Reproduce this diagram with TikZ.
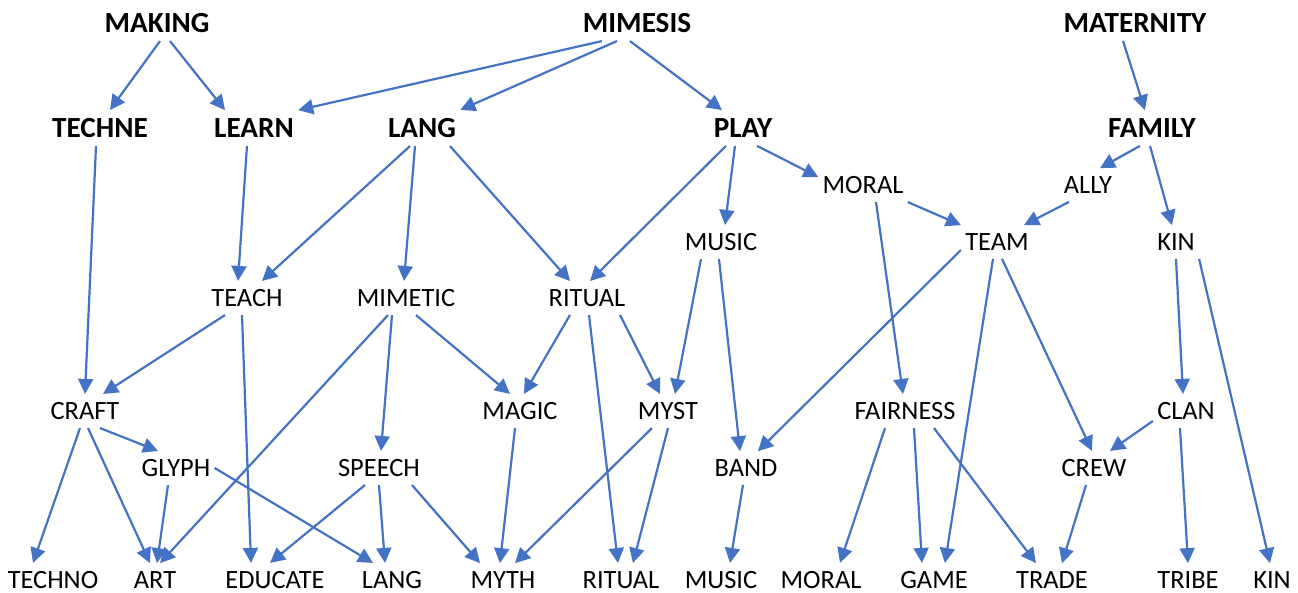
\documentclass[tikz,border=0pt]{standalone}
\usepackage{fontspec}
\setmainfont{Carlito}
\usetikzlibrary{positioning}
\usetikzlibrary{arrows.meta}
\definecolor{linkblue}{HTML}{4472C4}
\tikzset{every node/.style={font=\fontsize{13.2}{15}\selectfont,inner xsep=2pt,inner ysep=4pt},
	root/.style={font=\fontsize{14.6}{17}\selectfont\bfseries},
	link/.style={-{Triangle[length=7.5pt,width=7.5pt]},color=linkblue,line width=1.1pt}}

\begin{document}
\begin{tikzpicture}[x=0.5pt,y=-0.5pt]
	\useasboundingbox (0,0) rectangle (1298,593);
	\node[root] at (157,23) (making) {MAKING};
	\node[root] at (637,23) (mimesis) {MIMESIS};
	\node[root] at (1135,23) (maternity) {MATERNITY};
	\node[root] at (100,128) (techne) {TECHNE};
	\node[root] at (254,128) (learn) {LEARN};
	\node[root] at (422,128) (lang) {LANG};
	\node[root] at (743,128) (play) {PLAY};
	\node[root] at (1152,128) (family) {FAMILY};
	\node at (863,185) (moral) {MORAL};
	\node at (1088,185) (ally) {ALLY};
	\node at (721,242) (music) {MUSIC};
	\node at (997,242) (team) {TEAM};
	\node at (1176,242) (kin) {KIN};
	\node at (247,298) (teach) {TEACH};
	\node at (406,298) (mimetic) {MIMETIC};
	\node at (587,298) (ritual) {RITUAL};
	\node at (85,411) (craft) {CRAFT};
	\node at (520,411) (magic) {MAGIC};
	\node at (668,411) (myst) {MYST};
	\node at (905,411) (fairness) {FAIRNESS};
	\node at (1186,411) (clan) {CLAN};
	\node at (176,468) (glyph) {GLYPH};
	\node at (379,468) (speech) {SPEECH};
	\node at (746,468) (band) {BAND};
	\node at (1094,468) (crew) {CREW};
	\node at (53,580) (techno) {TECHNO};
	\node at (155,580) (art) {ART};
	\node at (275,580) (educate) {EDUCATE};
	\node at (392,580) (langb) {LANG};
	\node at (503,580) (myth) {MYTH};
	\node at (621,580) (ritualb) {RITUAL};
	\node at (721,580) (musicb) {MUSIC};
	\node at (821,580) (moralb) {MORAL};
	\node at (934,580) (game) {GAME};
	\node at (1052,580) (trade) {TRADE};
	\node at (1188,580) (tribe) {TRIBE};
	\node at (1272,580) (kinb) {KIN};
	
	\draw[link] ([xshift=1.5pt]making.south) -- ([xshift=5pt]techne.north);
	\draw[link] ([xshift=6.5pt]making.south) -- ([xshift=-14.5pt]learn.north);
	\draw[link] ([xshift=-17.5pt]mimesis.south) -- (learn.north east);
	\draw[link] ([xshift=-10pt]mimesis.south) -- (lang.north east);
	\draw[link] ([xshift=-3.5pt]mimesis.south) -- ([xshift=-10.5pt]play.north);
	\draw[link] ([xshift=-6pt]maternity.south) -- ([xshift=-3.5pt]family.north);
	\draw[link] ([xshift=-2pt]techne.south) -- (craft.north);
	\draw[link] ([xshift=-3.5pt]learn.south) -- ([xshift=-4.5pt]teach.north);
	\draw[link] ([xshift=-6pt]lang.south) -- ([xshift=7.5pt]teach.north);
	\draw[link] ([xshift=-3.5pt]lang.south) -- ([xshift=-1pt]mimetic.north);
	\draw[link] ([xshift=14pt]lang.south) -- ([xshift=-8.5pt]ritual.north);
	\draw[link] ([xshift=-8.5pt]play.south) -- ([xshift=1.5pt]ritual.north);
	\draw[link] ([xshift=-4pt]play.south) -- ([xshift=2pt]music.north);
	\draw[link] ([xshift=7pt]play.south) -- ([yshift=4pt]moral.west);
	\draw[link] ([xshift=-6pt]family.south) -- ([xshift=6pt]ally.north);
	\draw[link] ([xshift=-1pt]family.south) -- ([xshift=-2pt]kin.north);
	\draw[link] (moral.south east) -- (team.north west);
	\draw[link] ([xshift=6.5pt]moral.south) -- ([xshift=-1pt]fairness.north);
	\draw[link] ([xshift=-9.5pt]ally.south) -- ([xshift=13.5pt]team.north);
	\draw[link] ([yshift=-4pt]team.west) -- ([xshift=6pt]band.north);
	\draw[link] ([xshift=-2pt]team.south) -- ([xshift=5.5pt]game.north);
	\draw[link] ([xshift=2.5pt]team.south) -- ([xshift=-1pt]crew.north);
	\draw[link] (kin.south) -- ([xshift=-1.5pt]clan.north);
	\draw[link] (kin.south east) -- ([xshift=-1pt]kinb.north);
	\draw[link] ([xshift=-10pt]music.south) -- ([xshift=3.5pt]myst.north);
	\draw[link] ([xshift=-1pt]music.south) -- ([xshift=-3pt]band.north);
	\draw[link] ([xshift=-11pt]teach.south) -- ([xshift=9pt]craft.north);
	\draw[link] ([xshift=-2.5pt]teach.south) -- ([xshift=-12pt]educate.north);
	\draw[link] ([xshift=-9pt]mimetic.south) -- ([xshift=2.5pt]art.north);
	\draw[link] ([xshift=-7pt]mimetic.south) -- ([xshift=1pt]speech.north);
	\draw[link] ([xshift=5pt]mimetic.south) -- ([xshift=-5pt]magic.north);
	\draw[link] ([xshift=-8.5pt]ritual.south) -- ([xshift=2pt]magic.north);
	\draw[link] ([xshift=1pt]ritual.south) -- ([xshift=-1.5pt]ritualb.north);
	\draw[link] ([xshift=16.5pt]ritual.south) -- ([xshift=-4pt]myst.north);
	\draw[link] ([xshift=-2.5pt]craft.south) -- ([xshift=-10pt]techno.north);
	\draw[link] ([xshift=1.5pt]craft.south) -- ([xshift=-2.5pt]art.north);
	\draw[link] ([xshift=7.5pt]craft.south) -- ([xshift=-9pt]glyph.north);
	\draw[link] ([xshift=-4pt]glyph.south) -- ([xshift=1pt]art.north);
	\draw[link] (glyph.east) -- ([xshift=-9.5pt]langb.north);
	\draw[link] ([xshift=-7pt]speech.south) -- ([xshift=-2.5pt]educate.north);
	\draw[link] (speech.south) -- ([xshift=-3.5pt]langb.north);
	\draw[link] ([xshift=16.5pt]speech.south) -- ([xshift=-11.5pt]myth.north);
	\draw[link] ([xshift=-2.5pt]magic.south) -- ([xshift=-1.5pt]myth.north);
	\draw[link] ([xshift=-8pt]myst.south) -- ([xshift=6pt]myth.north);
	\draw[link] (myst.south) -- ([xshift=6pt]ritualb.north);
	\draw[link] ([xshift=-1.5pt]band.south) -- ([xshift=4.5pt]musicb.north);
	\draw[link] ([xshift=-10pt]fairness.south) -- ([xshift=9.5pt]moralb.north);
	\draw[link] ([xshift=4.5pt]fairness.south) -- ([xshift=-6pt]game.north);
	\draw[link] ([xshift=14.5pt]fairness.south) -- ([xshift=-8pt]trade.north);
	\draw[link] ([yshift=-5pt]clan.west) -- ([xshift=8pt]crew.north);
	\draw[link] ([xshift=-3pt]clan.south) -- (tribe.north);
	\draw[link] ([xshift=-4pt]crew.south) -- ([xshift=5pt]trade.north);
\end{tikzpicture}
\end{document}
